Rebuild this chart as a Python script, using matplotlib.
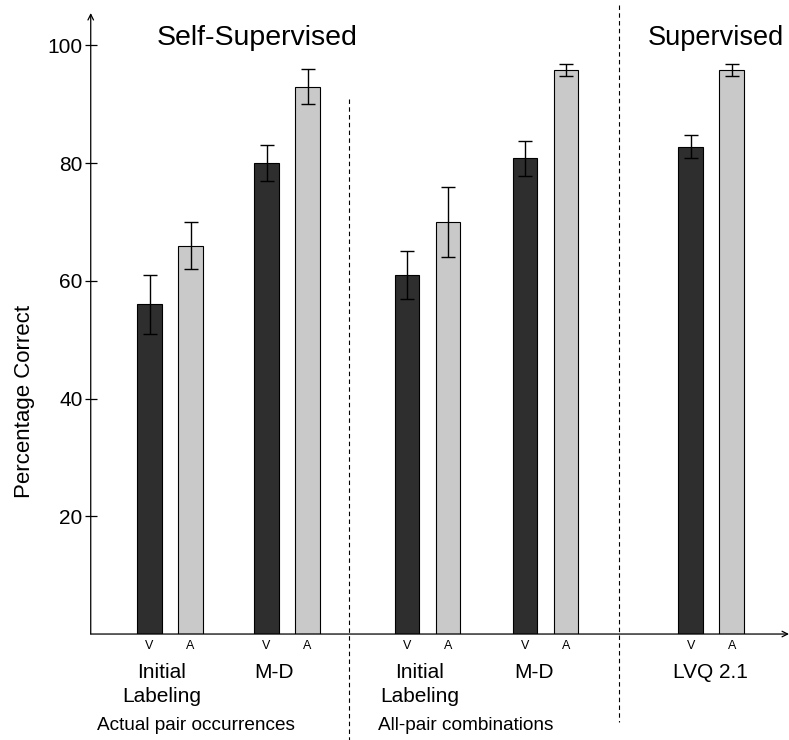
import matplotlib
matplotlib.use("Agg")
import matplotlib.pyplot as plt
import numpy as np

plt.rcParams['font.family'] = ['Liberation Sans', 'DejaVu Sans']

# values (percentage correct)
v_vals = [56, 80, 61, 80.8, 82.8]
a_vals = [66, 93, 70, 95.8, 95.8]
v_err = [5, 3, 4, 3, 2]
a_err = [4, 3, 6, 1, 1]
group_labels = ["Initial\nLabeling", "M-D", "Initial\nLabeling", "M-D", "LVQ 2.1"]
section_labels = ["Actual pair occurrences", "All-pair combinations"]
titles = ["Self-Supervised", "Supervised"]

# layout (x in axis units, roughly pixels from the y axis)
group_x = np.array([79.3, 196.3, 336.8, 454.8, 620.5])
label_x = [71.3, 183.3, 329.3, 442.8, 619.3]
section_x = [105.3, 375.0]
title_x = [166.8, 625.0]
divider_x = [258.3, 528.3]
off = 20.5
bw = 24.5

fig = plt.figure(figsize=(7.89, 7.40), dpi=100)
ax = fig.add_axes([0.115, 0.1432, 0.885, 0.8392])
ax.set_xlim(0, 698.3)
ax.set_ylim(0, 105.5)

dark = "#2e2e2e"
light = "#c9c9c9"
ax.bar(group_x - off, v_vals, width=bw, color=dark, edgecolor="black", linewidth=0.8)
ax.bar(group_x + off, a_vals, width=bw, color=light, edgecolor="black", linewidth=0.8)
ax.errorbar(group_x - off, v_vals, yerr=v_err, fmt="none", ecolor="black",
            elinewidth=1.0, capsize=5, capthick=1.0)
ax.errorbar(group_x + off, a_vals, yerr=a_err, fmt="none", ecolor="black",
            elinewidth=1.0, capsize=5, capthick=1.0)

for s in ax.spines.values():
    s.set_visible(False)
ax.annotate("", xy=(0, 1.0), xytext=(0, 0), xycoords="axes fraction",
            arrowprops=dict(arrowstyle="->", color="black", lw=0.9,
                            shrinkA=0, shrinkB=0))
ax.annotate("", xy=(1.0, 0), xytext=(0, 0), xycoords="axes fraction",
            arrowprops=dict(arrowstyle="->", color="black", lw=0.9,
                            shrinkA=0, shrinkB=0))

ax.set_xticks([])
ax.set_yticks([20, 40, 60, 80, 100])
ax.tick_params(axis="y", direction="inout", length=8, width=0.9, labelsize=15, pad=2)
ax.set_ylabel("Percentage Correct", fontsize=16)
ax.yaxis.set_label_coords(-0.080, 0.375)

tr = ax.get_xaxis_transform()
for gx in group_x:
    ax.text(gx - off, -0.0193, "V", transform=tr, ha="center", va="center", fontsize=9)
    ax.text(gx + off, -0.0193, "A", transform=tr, ha="center", va="center", fontsize=9)
for lx, lab in zip(label_x, group_labels):
    ax.text(lx, -0.047, lab, transform=tr, ha="center", va="top", fontsize=15,
            linespacing=1.35)
for sx, lab in zip(section_x, section_labels):
    ax.text(sx, -0.155, lab, transform=tr, ha="center", va="baseline", fontsize=13.7)
ax.text(title_x[0], 0.9485, titles[0], transform=tr, ha="center", va="baseline", fontsize=20.5)
ax.text(title_x[1], 0.9485, titles[1], transform=tr, ha="center", va="baseline", fontsize=19.5)

ax.plot([divider_x[0]] * 2, [0.8615, -0.1707], transform=tr, color="black",
        lw=0.8, ls=(0, (4, 3)), clip_on=False)
ax.plot([divider_x[1]] * 2, [1.0129, -0.1417], transform=tr, color="black",
        lw=0.8, ls=(0, (4, 3)), clip_on=False)

fig.savefig("out.png", dpi=100)
